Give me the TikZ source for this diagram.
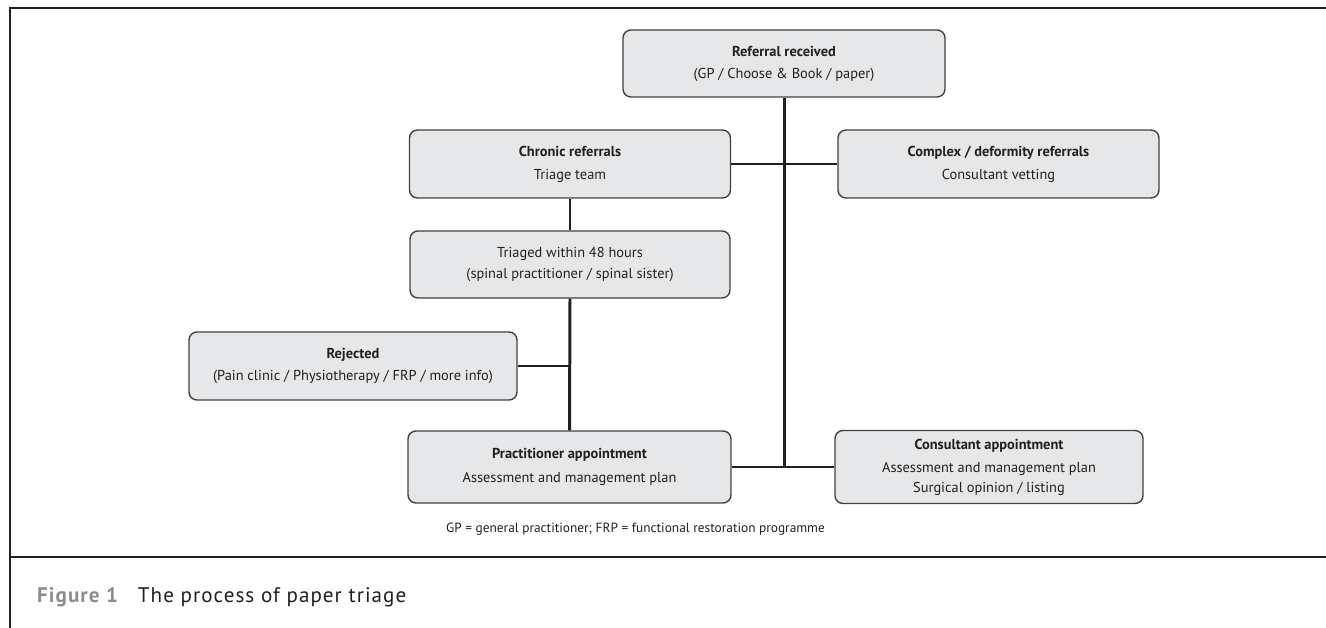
\documentclass[tikz,border=0pt]{standalone}
\usepackage{fontspec}
\setmainfont{PT Sans}
\definecolor{boxfill}{HTML}{E6E7E8}
\definecolor{ink}{HTML}{231F20}
\definecolor{figgray}{HTML}{8A8C8E}

\begin{document}
\begin{tikzpicture}[
  x=0.02cm,
  y=-0.02cm,
  every node/.style={text=ink},
  box/.style={
    draw=ink!85,
    line width=0.8pt,
    fill=boxfill,
    rounded corners=0.16cm,
    align=center,
    inner sep=2pt,
    font=\fontsize{8.2}{11}\selectfont,
  },
]
  \useasboundingbox (0,0) rectangle (1326,628);
  \draw[ink, line width=1.7pt] (10,628) -- (10,8) -- (1326,8)
    (10,557) -- (1326,557)
  ;
  \path
    \foreach \name/\at/\boxw/\boxh/\code in {
      ref/{784,63.5}/322/67/{\textbf{Referral received}\\[1.5pt](GP / Choose \& Book / paper)},
      chronic/{570,164}/321/68/{\textbf{Chronic referrals}\\[2pt]Triage team},
      complex/{998.5,164}/321/68/{\textbf{Complex / deformity referrals}\\[2pt]Consultant vetting},
      triaged/{570,264.5}/320/67/{Triaged within 48 hours\\[1pt](spinal practitioner / spinal sister)},
      rejected/{353,366}/328/68/{\textbf{Rejected}\\[2pt](Pain clinic / Physiotherapy / FRP / more info)},
      pract/{569.5,467}/323/72/{\textbf{Practitioner appointment}\\[2.5pt]Assessment and management plan},
      cons/{989,467}/308/73/{\textbf{Consultant appointment}\\[2.5pt]Assessment and management plan\\Surgical opinion / listing}%
    } {
      (\at) node[box, minimum width=\boxw*0.02cm, minimum height=\boxh*0.02cm] (\name) {\code}
    }
  ;
  \node[font=\fontsize{7.6}{9}\selectfont] (note) at (635.5,529)
    {GP = general practitioner; FRP = functional restoration programme};
  \node[anchor=west, font=\fontsize{12}{14}\selectfont\addfontfeature{LetterSpace=5}] (caption) at (31,597)
    {{\color{figgray}\bfseries Figure 1}\hspace{0.4cm}The process of paper triage};
  \begin{scope}[
    ink,
    line width=1.7pt,
  ]
    \def\Link#1#2{\draw (#1) -- (#2);}
    \Link{ref.south}{ref.south |- cons.west}
    \Link{chronic.east}{complex.west}
    \Link{chronic.south}{triaged.north}
    \Link{triaged.south}{pract.north}
    \Link{rejected.east}{rejected.east -| triaged.south}
    \Link{pract.east}{cons.west}
  \end{scope}
\end{tikzpicture}
\end{document}
